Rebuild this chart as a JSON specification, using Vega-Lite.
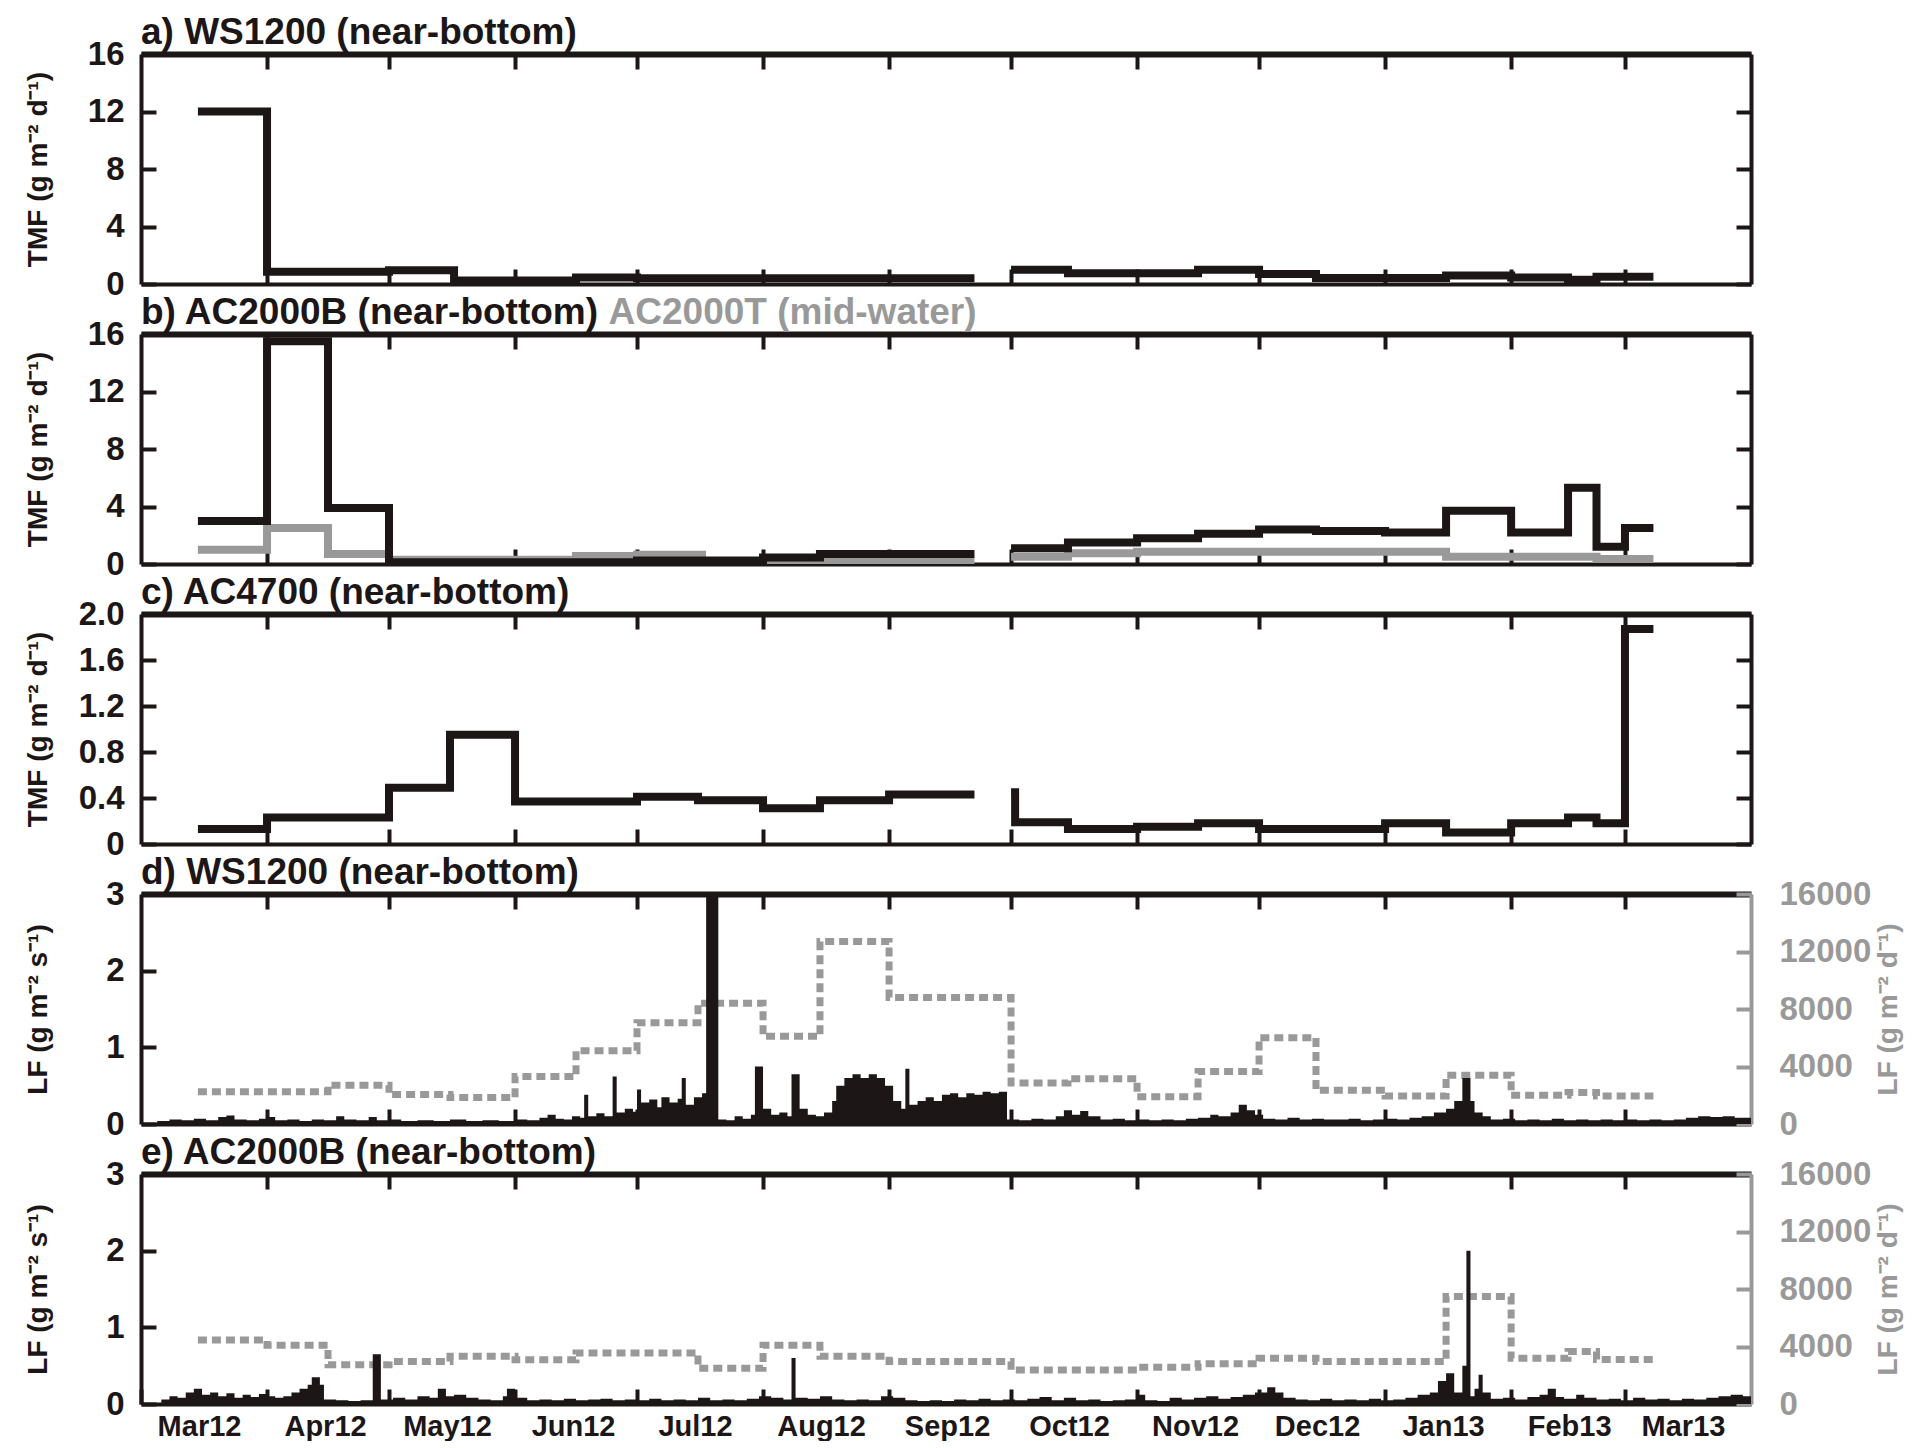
{
"$schema": "https://vega.github.io/schema/vega-lite/v6.json",
"background": "white",
"padding": {"left": 23, "top": 14, "right": 5, "bottom": 0},
"spacing": -7,
"config": {
  "view": {"stroke": null},
  "axis": {"domainColor": "#1c1716", "domainWidth": 4, "tickColor": "#1c1716", "tickWidth": 4, "tickSize": -15, "grid": false,
    "labelFont": "Liberation Sans", "labelFontSize": 33, "labelFontWeight": "bold", "labelColor": "#1c1716",
    "titleFont": "Liberation Sans", "titleFontSize": 28, "titleFontWeight": "bold", "titleColor": "#1c1716", "zindex": 1, "labelPadding": 32},
  "title": {"anchor": "start", "frame": "group", "font": "Liberation Sans", "fontSize": 37, "fontWeight": "bold", "color": "#1c1716", "offset": -14, "baseline": "bottom"}
},
"datasets": {
  "a": [
    {"t": "2012-03-15", "v": 12, "s": 1}, {"t": "2012-04-01", "v": 0.85, "s": 1}, {"t": "2012-05-01", "v": 0.95, "s": 1},
    {"t": "2012-05-17", "v": 0.25, "s": 1}, {"t": "2012-06-16", "v": 0.45, "s": 1}, {"t": "2012-07-01", "v": 0.4, "s": 1},
    {"t": "2012-09-22", "v": 0.4, "s": 1},
    {"t": "2012-10-01", "v": 1.0, "s": 2}, {"t": "2012-10-15", "v": 0.75, "s": 2}, {"t": "2012-11-16", "v": 1.0, "s": 2},
    {"t": "2012-12-01", "v": 0.7, "s": 2}, {"t": "2012-12-15", "v": 0.42, "s": 2}, {"t": "2013-01-16", "v": 0.6, "s": 2},
    {"t": "2013-02-01", "v": 0.46, "s": 2}, {"t": "2013-02-15", "v": 0.3, "s": 2}, {"t": "2013-02-22", "v": 0.5, "s": 2},
    {"t": "2013-03-08", "v": 0.5, "s": 2}
  ],
  "b": [
    {"t": "2012-03-15", "v": 3.0, "sr": "B", "s": 1}, {"t": "2012-04-01", "v": 15.5, "sr": "B", "s": 1}, {"t": "2012-04-16", "v": 3.9, "sr": "B", "s": 1},
    {"t": "2012-05-01", "v": 0.12, "sr": "B", "s": 1}, {"t": "2012-07-01", "v": 0.25, "sr": "B", "s": 1}, {"t": "2012-08-01", "v": 0.45, "sr": "B", "s": 1},
    {"t": "2012-08-15", "v": 0.7, "sr": "B", "s": 1}, {"t": "2012-09-22", "v": 0.7, "sr": "B", "s": 1},
    {"t": "2012-10-01", "v": 1.1, "sr": "B", "s": 2}, {"t": "2012-10-15", "v": 1.5, "sr": "B", "s": 2}, {"t": "2012-11-01", "v": 1.8, "sr": "B", "s": 2},
    {"t": "2012-11-16", "v": 2.1, "sr": "B", "s": 2}, {"t": "2012-12-01", "v": 2.4, "sr": "B", "s": 2}, {"t": "2012-12-15", "v": 2.3, "sr": "B", "s": 2},
    {"t": "2013-01-01", "v": 2.2, "sr": "B", "s": 2}, {"t": "2013-01-16", "v": 3.7, "sr": "B", "s": 2}, {"t": "2013-02-01", "v": 2.2, "sr": "B", "s": 2},
    {"t": "2013-02-15", "v": 5.3, "sr": "B", "s": 2}, {"t": "2013-02-22", "v": 1.2, "sr": "B", "s": 2}, {"t": "2013-03-01", "v": 2.5, "sr": "B", "s": 2},
    {"t": "2013-03-08", "v": 2.5, "sr": "B", "s": 2},
    {"t": "2012-03-15", "v": 1.0, "sr": "T", "s": 1}, {"t": "2012-04-01", "v": 2.5, "sr": "T", "s": 1}, {"t": "2012-04-16", "v": 0.7, "sr": "T", "s": 1},
    {"t": "2012-05-01", "v": 0.3, "sr": "T", "s": 1}, {"t": "2012-06-16", "v": 0.55, "sr": "T", "s": 1}, {"t": "2012-07-01", "v": 0.65, "sr": "T", "s": 1},
    {"t": "2012-07-17", "v": 0.2, "sr": "T", "s": 1}, {"t": "2012-09-22", "v": 0.2, "sr": "T", "s": 1},
    {"t": "2012-10-01", "v": 0.5, "sr": "T", "s": 2}, {"t": "2012-10-15", "v": 0.75, "sr": "T", "s": 2}, {"t": "2012-11-01", "v": 0.85, "sr": "T", "s": 2},
    {"t": "2013-01-16", "v": 0.5, "sr": "T", "s": 2}, {"t": "2013-02-22", "v": 0.35, "sr": "T", "s": 2}, {"t": "2013-03-08", "v": 0.35, "sr": "T", "s": 2}
  ],
  "bT": [
    {"lbl": "b) AC2000B (near-bottom)", "d": "2012-03-01", "col": "k"},
    {"lbl": "AC2000T (mid-water)", "d": "2012-06-24", "col": "g"}
  ],
  "c": [
    {"t": "2012-03-15", "v": 0.13, "s": 1}, {"t": "2012-04-01", "v": 0.23, "s": 1}, {"t": "2012-05-01", "v": 0.49, "s": 1},
    {"t": "2012-05-16", "v": 0.95, "s": 1}, {"t": "2012-06-01", "v": 0.37, "s": 1}, {"t": "2012-07-01", "v": 0.41, "s": 1},
    {"t": "2012-07-16", "v": 0.38, "s": 1}, {"t": "2012-08-01", "v": 0.31, "s": 1}, {"t": "2012-08-15", "v": 0.38, "s": 1},
    {"t": "2012-09-01", "v": 0.43, "s": 1}, {"t": "2012-09-22", "v": 0.43, "s": 1},
    {"t": "2012-10-01", "v": 0.45, "s": 2}, {"t": "2012-10-02", "v": 0.19, "s": 2}, {"t": "2012-10-15", "v": 0.13, "s": 2},
    {"t": "2012-11-01", "v": 0.15, "s": 2}, {"t": "2012-11-16", "v": 0.18, "s": 2}, {"t": "2012-12-01", "v": 0.13, "s": 2},
    {"t": "2013-01-01", "v": 0.18, "s": 2}, {"t": "2013-01-16", "v": 0.1, "s": 2}, {"t": "2013-02-01", "v": 0.18, "s": 2},
    {"t": "2013-02-15", "v": 0.23, "s": 2}, {"t": "2013-02-22", "v": 0.18, "s": 2}, {"t": "2013-03-01", "v": 1.87, "s": 2},
    {"t": "2013-03-08", "v": 1.87, "s": 2}
  ],
  "dG": [
    {"t": "2012-03-15", "g": 2250}, {"t": "2012-04-16", "g": 2700}, {"t": "2012-05-01", "g": 2050}, {"t": "2012-05-16", "g": 1850},
    {"t": "2012-06-01", "g": 3300}, {"t": "2012-06-16", "g": 5100}, {"t": "2012-07-01", "g": 7050}, {"t": "2012-07-16", "g": 8400},
    {"t": "2012-08-01", "g": 6100}, {"t": "2012-08-15", "g": 12700}, {"t": "2012-09-01", "g": 8800}, {"t": "2012-10-01", "g": 2850},
    {"t": "2012-10-15", "g": 3150}, {"t": "2012-11-01", "g": 1900}, {"t": "2012-11-16", "g": 3650}, {"t": "2012-12-01", "g": 6000},
    {"t": "2012-12-15", "g": 2350}, {"t": "2013-01-01", "g": 1950}, {"t": "2013-01-16", "g": 3400}, {"t": "2013-02-01", "g": 2000},
    {"t": "2013-02-15", "g": 2200}, {"t": "2013-02-22", "g": 1950}, {"t": "2013-03-08", "g": 1950}
  ],
  "eG": [
    {"t": "2012-03-15", "g": 4450}, {"t": "2012-04-01", "g": 4080}, {"t": "2012-04-16", "g": 2730}, {"t": "2012-05-01", "g": 2960},
    {"t": "2012-05-16", "g": 3320}, {"t": "2012-06-01", "g": 3080}, {"t": "2012-06-16", "g": 3550}, {"t": "2012-07-16", "g": 2490},
    {"t": "2012-08-01", "g": 4080}, {"t": "2012-08-15", "g": 3320}, {"t": "2012-09-01", "g": 2950}, {"t": "2012-10-01", "g": 2370},
    {"t": "2012-11-01", "g": 2550}, {"t": "2012-11-16", "g": 2800}, {"t": "2012-12-01", "g": 3190}, {"t": "2012-12-15", "g": 2960},
    {"t": "2013-01-16", "g": 7470}, {"t": "2013-02-01", "g": 3190}, {"t": "2013-02-15", "g": 3650}, {"t": "2013-02-22", "g": 3090},
    {"t": "2013-03-08", "g": 3090}
  ],
  "dL": [
    {"t": "2012-03-01", "lf": 0}, {"t": "2012-03-05", "lf": 0.04}, {"t": "2012-03-08", "lf": 0.06}, {"t": "2012-03-11", "lf": 0.05},
    {"t": "2012-03-14", "lf": 0.07}, {"t": "2012-03-17", "lf": 0.05}, {"t": "2012-03-20", "lf": 0.09}, {"t": "2012-03-22", "lf": 0.11},
    {"t": "2012-03-24", "lf": 0.06}, {"t": "2012-03-27", "lf": 0.05}, {"t": "2012-03-30", "lf": 0.07}, {"t": "2012-04-01", "lf": 0.09},
    {"t": "2012-04-03", "lf": 0.05}, {"t": "2012-04-06", "lf": 0.06}, {"t": "2012-04-09", "lf": 0.04}, {"t": "2012-04-12", "lf": 0.06},
    {"t": "2012-04-15", "lf": 0.05}, {"t": "2012-04-18", "lf": 0.1}, {"t": "2012-04-20", "lf": 0.06}, {"t": "2012-04-23", "lf": 0.05},
    {"t": "2012-04-26", "lf": 0.09}, {"t": "2012-04-28", "lf": 0.05}, {"t": "2012-05-01", "lf": 0.06}, {"t": "2012-05-04", "lf": 0.04},
    {"t": "2012-05-08", "lf": 0.05}, {"t": "2012-05-12", "lf": 0.04}, {"t": "2012-05-16", "lf": 0.06}, {"t": "2012-05-20", "lf": 0.04},
    {"t": "2012-05-24", "lf": 0.05}, {"t": "2012-05-28", "lf": 0.04}, {"t": "2012-06-01", "lf": 0.06}, {"t": "2012-06-04", "lf": 0.05},
    {"t": "2012-06-07", "lf": 0.08}, {"t": "2012-06-09", "lf": 0.12}, {"t": "2012-06-11", "lf": 0.07}, {"t": "2012-06-13", "lf": 0.06},
    {"t": "2012-06-15", "lf": 0.1}, {"t": "2012-06-17", "lf": 0.08}, {"t": "2012-06-18", "lf": 0.38}, {"t": "2012-06-19", "lf": 0.1},
    {"t": "2012-06-21", "lf": 0.14}, {"t": "2012-06-23", "lf": 0.1}, {"t": "2012-06-25", "lf": 0.62}, {"t": "2012-06-26", "lf": 0.15},
    {"t": "2012-06-28", "lf": 0.2}, {"t": "2012-06-30", "lf": 0.16}, {"t": "2012-07-01", "lf": 0.45}, {"t": "2012-07-02", "lf": 0.28},
    {"t": "2012-07-04", "lf": 0.32}, {"t": "2012-07-06", "lf": 0.22}, {"t": "2012-07-07", "lf": 0.35}, {"t": "2012-07-09", "lf": 0.28},
    {"t": "2012-07-11", "lf": 0.33}, {"t": "2012-07-12", "lf": 0.6}, {"t": "2012-07-13", "lf": 0.25}, {"t": "2012-07-15", "lf": 0.35},
    {"t": "2012-07-17", "lf": 0.4}, {"t": "2012-07-18", "lf": 3.2}, {"t": "2012-07-21", "lf": 0.06}, {"t": "2012-07-23", "lf": 0.05},
    {"t": "2012-07-25", "lf": 0.1}, {"t": "2012-07-27", "lf": 0.07}, {"t": "2012-07-29", "lf": 0.12}, {"t": "2012-07-30", "lf": 0.75},
    {"t": "2012-08-01", "lf": 0.2}, {"t": "2012-08-03", "lf": 0.12}, {"t": "2012-08-05", "lf": 0.15}, {"t": "2012-08-07", "lf": 0.1},
    {"t": "2012-08-08", "lf": 0.65}, {"t": "2012-08-10", "lf": 0.2}, {"t": "2012-08-12", "lf": 0.12}, {"t": "2012-08-14", "lf": 0.1},
    {"t": "2012-08-16", "lf": 0.15}, {"t": "2012-08-18", "lf": 0.3}, {"t": "2012-08-19", "lf": 0.5}, {"t": "2012-08-21", "lf": 0.6},
    {"t": "2012-08-23", "lf": 0.65}, {"t": "2012-08-25", "lf": 0.6}, {"t": "2012-08-27", "lf": 0.65}, {"t": "2012-08-29", "lf": 0.6},
    {"t": "2012-08-31", "lf": 0.5}, {"t": "2012-09-02", "lf": 0.3}, {"t": "2012-09-04", "lf": 0.2}, {"t": "2012-09-05", "lf": 0.72},
    {"t": "2012-09-06", "lf": 0.25}, {"t": "2012-09-08", "lf": 0.3}, {"t": "2012-09-10", "lf": 0.35}, {"t": "2012-09-12", "lf": 0.3},
    {"t": "2012-09-14", "lf": 0.38}, {"t": "2012-09-16", "lf": 0.4}, {"t": "2012-09-18", "lf": 0.35}, {"t": "2012-09-20", "lf": 0.4},
    {"t": "2012-09-22", "lf": 0.38}, {"t": "2012-09-24", "lf": 0.42}, {"t": "2012-09-26", "lf": 0.4}, {"t": "2012-09-28", "lf": 0.42},
    {"t": "2012-09-30", "lf": 0.06}, {"t": "2012-10-03", "lf": 0.05}, {"t": "2012-10-06", "lf": 0.07}, {"t": "2012-10-09", "lf": 0.06},
    {"t": "2012-10-12", "lf": 0.1}, {"t": "2012-10-14", "lf": 0.18}, {"t": "2012-10-16", "lf": 0.12}, {"t": "2012-10-18", "lf": 0.17},
    {"t": "2012-10-20", "lf": 0.1}, {"t": "2012-10-23", "lf": 0.06}, {"t": "2012-10-26", "lf": 0.07}, {"t": "2012-10-29", "lf": 0.05},
    {"t": "2012-11-01", "lf": 0.06}, {"t": "2012-11-04", "lf": 0.05}, {"t": "2012-11-07", "lf": 0.06}, {"t": "2012-11-10", "lf": 0.05},
    {"t": "2012-11-13", "lf": 0.07}, {"t": "2012-11-16", "lf": 0.08}, {"t": "2012-11-19", "lf": 0.12}, {"t": "2012-11-21", "lf": 0.1},
    {"t": "2012-11-24", "lf": 0.15}, {"t": "2012-11-26", "lf": 0.25}, {"t": "2012-11-28", "lf": 0.18}, {"t": "2012-11-30", "lf": 0.12},
    {"t": "2012-12-02", "lf": 0.07}, {"t": "2012-12-05", "lf": 0.06}, {"t": "2012-12-08", "lf": 0.08}, {"t": "2012-12-11", "lf": 0.06},
    {"t": "2012-12-14", "lf": 0.07}, {"t": "2012-12-17", "lf": 0.06}, {"t": "2012-12-20", "lf": 0.06}, {"t": "2012-12-23", "lf": 0.07},
    {"t": "2012-12-26", "lf": 0.05}, {"t": "2012-12-29", "lf": 0.06}, {"t": "2013-01-01", "lf": 0.07}, {"t": "2013-01-04", "lf": 0.06},
    {"t": "2013-01-07", "lf": 0.08}, {"t": "2013-01-10", "lf": 0.1}, {"t": "2013-01-13", "lf": 0.15}, {"t": "2013-01-16", "lf": 0.2},
    {"t": "2013-01-18", "lf": 0.3}, {"t": "2013-01-20", "lf": 0.6}, {"t": "2013-01-22", "lf": 0.3}, {"t": "2013-01-23", "lf": 0.15},
    {"t": "2013-01-25", "lf": 0.1}, {"t": "2013-01-27", "lf": 0.06}, {"t": "2013-01-30", "lf": 0.07}, {"t": "2013-02-02", "lf": 0.05},
    {"t": "2013-02-05", "lf": 0.06}, {"t": "2013-02-08", "lf": 0.05}, {"t": "2013-02-11", "lf": 0.07}, {"t": "2013-02-14", "lf": 0.05},
    {"t": "2013-02-17", "lf": 0.06}, {"t": "2013-02-20", "lf": 0.05}, {"t": "2013-02-23", "lf": 0.06}, {"t": "2013-02-26", "lf": 0.05},
    {"t": "2013-03-01", "lf": 0.06}, {"t": "2013-03-04", "lf": 0.05}, {"t": "2013-03-07", "lf": 0.06}, {"t": "2013-03-10", "lf": 0.05},
    {"t": "2013-03-13", "lf": 0.06}, {"t": "2013-03-16", "lf": 0.08}, {"t": "2013-03-19", "lf": 0.1}, {"t": "2013-03-22", "lf": 0.09},
    {"t": "2013-03-25", "lf": 0.1}, {"t": "2013-03-28", "lf": 0.08}, {"t": "2013-04-01", "lf": 0.08}
  ],
  "eL": [
    {"t": "2012-03-01", "lf": 0}, {"t": "2012-03-06", "lf": 0.06}, {"t": "2012-03-08", "lf": 0.1}, {"t": "2012-03-10", "lf": 0.08},
    {"t": "2012-03-12", "lf": 0.15}, {"t": "2012-03-14", "lf": 0.2}, {"t": "2012-03-16", "lf": 0.12}, {"t": "2012-03-18", "lf": 0.15},
    {"t": "2012-03-20", "lf": 0.1}, {"t": "2012-03-22", "lf": 0.14}, {"t": "2012-03-24", "lf": 0.08}, {"t": "2012-03-26", "lf": 0.12},
    {"t": "2012-03-28", "lf": 0.09}, {"t": "2012-03-30", "lf": 0.13}, {"t": "2012-04-01", "lf": 0.1}, {"t": "2012-04-03", "lf": 0.08},
    {"t": "2012-04-05", "lf": 0.1}, {"t": "2012-04-07", "lf": 0.15}, {"t": "2012-04-09", "lf": 0.2}, {"t": "2012-04-11", "lf": 0.25},
    {"t": "2012-04-12", "lf": 0.35}, {"t": "2012-04-14", "lf": 0.25}, {"t": "2012-04-15", "lf": 0.06}, {"t": "2012-04-18", "lf": 0.05},
    {"t": "2012-04-21", "lf": 0.04}, {"t": "2012-04-24", "lf": 0.05}, {"t": "2012-04-27", "lf": 0.65}, {"t": "2012-04-29", "lf": 0.06},
    {"t": "2012-05-02", "lf": 0.08}, {"t": "2012-05-05", "lf": 0.06}, {"t": "2012-05-08", "lf": 0.1}, {"t": "2012-05-11", "lf": 0.08},
    {"t": "2012-05-13", "lf": 0.2}, {"t": "2012-05-15", "lf": 0.1}, {"t": "2012-05-17", "lf": 0.12}, {"t": "2012-05-20", "lf": 0.08},
    {"t": "2012-05-23", "lf": 0.06}, {"t": "2012-05-26", "lf": 0.05}, {"t": "2012-05-29", "lf": 0.1}, {"t": "2012-05-30", "lf": 0.2},
    {"t": "2012-06-01", "lf": 0.08}, {"t": "2012-06-04", "lf": 0.05}, {"t": "2012-06-07", "lf": 0.06}, {"t": "2012-06-10", "lf": 0.05},
    {"t": "2012-06-13", "lf": 0.07}, {"t": "2012-06-16", "lf": 0.05}, {"t": "2012-06-19", "lf": 0.06}, {"t": "2012-06-22", "lf": 0.07},
    {"t": "2012-06-25", "lf": 0.05}, {"t": "2012-06-28", "lf": 0.06}, {"t": "2012-07-01", "lf": 0.05}, {"t": "2012-07-04", "lf": 0.07},
    {"t": "2012-07-07", "lf": 0.05}, {"t": "2012-07-10", "lf": 0.06}, {"t": "2012-07-13", "lf": 0.05}, {"t": "2012-07-16", "lf": 0.08},
    {"t": "2012-07-19", "lf": 0.05}, {"t": "2012-07-22", "lf": 0.06}, {"t": "2012-07-25", "lf": 0.05}, {"t": "2012-07-28", "lf": 0.07},
    {"t": "2012-07-31", "lf": 0.1}, {"t": "2012-08-03", "lf": 0.08}, {"t": "2012-08-06", "lf": 0.06}, {"t": "2012-08-08", "lf": 0.6},
    {"t": "2012-08-09", "lf": 0.08}, {"t": "2012-08-12", "lf": 0.07}, {"t": "2012-08-15", "lf": 0.1}, {"t": "2012-08-18", "lf": 0.06},
    {"t": "2012-08-21", "lf": 0.05}, {"t": "2012-08-24", "lf": 0.06}, {"t": "2012-08-27", "lf": 0.05}, {"t": "2012-08-30", "lf": 0.1},
    {"t": "2012-09-02", "lf": 0.08}, {"t": "2012-09-05", "lf": 0.05}, {"t": "2012-09-08", "lf": 0.04}, {"t": "2012-09-11", "lf": 0.05},
    {"t": "2012-09-14", "lf": 0.04}, {"t": "2012-09-17", "lf": 0.06}, {"t": "2012-09-20", "lf": 0.05}, {"t": "2012-09-23", "lf": 0.07},
    {"t": "2012-09-26", "lf": 0.05}, {"t": "2012-09-29", "lf": 0.06}, {"t": "2012-10-02", "lf": 0.05}, {"t": "2012-10-05", "lf": 0.07},
    {"t": "2012-10-08", "lf": 0.09}, {"t": "2012-10-11", "lf": 0.05}, {"t": "2012-10-14", "lf": 0.08}, {"t": "2012-10-17", "lf": 0.05},
    {"t": "2012-10-20", "lf": 0.06}, {"t": "2012-10-23", "lf": 0.04}, {"t": "2012-10-26", "lf": 0.05}, {"t": "2012-10-29", "lf": 0.06},
    {"t": "2012-11-01", "lf": 0.12}, {"t": "2012-11-03", "lf": 0.05}, {"t": "2012-11-06", "lf": 0.04}, {"t": "2012-11-09", "lf": 0.08},
    {"t": "2012-11-12", "lf": 0.06}, {"t": "2012-11-15", "lf": 0.08}, {"t": "2012-11-18", "lf": 0.1}, {"t": "2012-11-21", "lf": 0.07},
    {"t": "2012-11-24", "lf": 0.09}, {"t": "2012-11-27", "lf": 0.12}, {"t": "2012-11-30", "lf": 0.15}, {"t": "2012-12-03", "lf": 0.22},
    {"t": "2012-12-05", "lf": 0.15}, {"t": "2012-12-07", "lf": 0.08}, {"t": "2012-12-10", "lf": 0.06}, {"t": "2012-12-13", "lf": 0.05},
    {"t": "2012-12-16", "lf": 0.07}, {"t": "2012-12-19", "lf": 0.05}, {"t": "2012-12-22", "lf": 0.06}, {"t": "2012-12-25", "lf": 0.05},
    {"t": "2012-12-28", "lf": 0.07}, {"t": "2012-12-31", "lf": 0.05}, {"t": "2013-01-03", "lf": 0.06}, {"t": "2013-01-06", "lf": 0.08},
    {"t": "2013-01-09", "lf": 0.12}, {"t": "2013-01-12", "lf": 0.15}, {"t": "2013-01-14", "lf": 0.3}, {"t": "2013-01-16", "lf": 0.4},
    {"t": "2013-01-18", "lf": 0.15}, {"t": "2013-01-20", "lf": 0.5}, {"t": "2013-01-21", "lf": 2.0}, {"t": "2013-01-22", "lf": 0.1},
    {"t": "2013-01-23", "lf": 0.2}, {"t": "2013-01-24", "lf": 0.38}, {"t": "2013-01-25", "lf": 0.15}, {"t": "2013-01-27", "lf": 0.07},
    {"t": "2013-01-30", "lf": 0.08}, {"t": "2013-02-02", "lf": 0.06}, {"t": "2013-02-05", "lf": 0.09}, {"t": "2013-02-08", "lf": 0.12},
    {"t": "2013-02-10", "lf": 0.2}, {"t": "2013-02-12", "lf": 0.09}, {"t": "2013-02-14", "lf": 0.07}, {"t": "2013-02-17", "lf": 0.12},
    {"t": "2013-02-19", "lf": 0.08}, {"t": "2013-02-22", "lf": 0.06}, {"t": "2013-02-25", "lf": 0.07}, {"t": "2013-02-28", "lf": 0.05},
    {"t": "2013-03-03", "lf": 0.08}, {"t": "2013-03-06", "lf": 0.06}, {"t": "2013-03-09", "lf": 0.07}, {"t": "2013-03-12", "lf": 0.05},
    {"t": "2013-03-15", "lf": 0.07}, {"t": "2013-03-18", "lf": 0.06}, {"t": "2013-03-21", "lf": 0.08}, {"t": "2013-03-24", "lf": 0.1},
    {"t": "2013-03-27", "lf": 0.12}, {"t": "2013-03-30", "lf": 0.1}, {"t": "2013-04-01", "lf": 0.1}
  ]
},
"vconcat": [
  {
    "width": 1610, "height": 230,
    "title": {"text": "a) WS1200 (near-bottom)"},
    "data": {"name": "a"},
    "layer": [
      {"mark": {"type": "line", "interpolate": "step-after", "strokeWidth": 8, "color": "#1c1716", "clip": true},
       "encoding": {
         "x": {"field": "t", "type": "temporal", "scale": {"type": "utc", "domain": [{"year": 2012, "month": 3, "date": 1, "utc": true}, {"year": 2013, "month": 4, "date": 1, "utc": true}]},
               "axis": {"orient": "bottom", "labels": false, "title": null, "values": [{"year": 2012, "month": 4, "date": 1, "utc": true}, {"year": 2012, "month": 5, "date": 1, "utc": true}, {"year": 2012, "month": 6, "date": 1, "utc": true}, {"year": 2012, "month": 7, "date": 1, "utc": true}, {"year": 2012, "month": 8, "date": 1, "utc": true}, {"year": 2012, "month": 9, "date": 1, "utc": true}, {"year": 2012, "month": 10, "date": 1, "utc": true}, {"year": 2012, "month": 11, "date": 1, "utc": true}, {"year": 2012, "month": 12, "date": 1, "utc": true}, {"year": 2013, "month": 1, "date": 1, "utc": true}, {"year": 2013, "month": 2, "date": 1, "utc": true}, {"year": 2013, "month": 3, "date": 1, "utc": true}]}},
         "y": {"field": "v", "type": "quantitative", "scale": {"domain": [0, 16]},
               "axis": {"orient": "left", "values": [0, 4, 8, 12, 16], "title": "TMF (g m⁻² d⁻¹)", "titleX": -103, "titleAngle": -90, "titleAlign": "center", "titleBaseline": "middle"}},
         "detail": {"field": "s"}
       }},
      {"mark": {"type": "line", "interpolate": "step-after", "strokeOpacity": 0},
       "encoding": {
         "x": {"field": "t", "type": "temporal", "scale": {"type": "utc", "domain": [{"year": 2012, "month": 3, "date": 1, "utc": true}, {"year": 2013, "month": 4, "date": 1, "utc": true}]},
               "axis": {"orient": "top", "labels": false, "title": null, "domainWidth": 6, "values": [{"year": 2012, "month": 4, "date": 1, "utc": true}, {"year": 2012, "month": 5, "date": 1, "utc": true}, {"year": 2012, "month": 6, "date": 1, "utc": true}, {"year": 2012, "month": 7, "date": 1, "utc": true}, {"year": 2012, "month": 8, "date": 1, "utc": true}, {"year": 2012, "month": 9, "date": 1, "utc": true}, {"year": 2012, "month": 10, "date": 1, "utc": true}, {"year": 2012, "month": 11, "date": 1, "utc": true}, {"year": 2012, "month": 12, "date": 1, "utc": true}, {"year": 2013, "month": 1, "date": 1, "utc": true}, {"year": 2013, "month": 2, "date": 1, "utc": true}, {"year": 2013, "month": 3, "date": 1, "utc": true}]}},
         "y": {"field": "v", "type": "quantitative", "scale": {"domain": [0, 16]},
               "axis": {"orient": "right", "values": [0, 4, 8, 12, 16], "labels": false, "title": null}},
         "detail": {"field": "s"}
       }}
    ],
    "resolve": {"axis": {"x": "independent", "y": "independent"}}
  },
  {
    "width": 1610, "height": 230,
    "layer": [
      {"data": {"name": "b"},
       "transform": [{"filter": "datum.sr == 'T'"}],
       "mark": {"type": "line", "interpolate": "step-after", "strokeWidth": 8, "color": "#999999", "clip": true},
       "encoding": {
         "x": {"field": "t", "type": "temporal", "scale": {"type": "utc", "domain": [{"year": 2012, "month": 3, "date": 1, "utc": true}, {"year": 2013, "month": 4, "date": 1, "utc": true}]},
               "axis": {"orient": "top", "labels": false, "title": null, "domainWidth": 6, "values": [{"year": 2012, "month": 4, "date": 1, "utc": true}, {"year": 2012, "month": 5, "date": 1, "utc": true}, {"year": 2012, "month": 6, "date": 1, "utc": true}, {"year": 2012, "month": 7, "date": 1, "utc": true}, {"year": 2012, "month": 8, "date": 1, "utc": true}, {"year": 2012, "month": 9, "date": 1, "utc": true}, {"year": 2012, "month": 10, "date": 1, "utc": true}, {"year": 2012, "month": 11, "date": 1, "utc": true}, {"year": 2012, "month": 12, "date": 1, "utc": true}, {"year": 2013, "month": 1, "date": 1, "utc": true}, {"year": 2013, "month": 2, "date": 1, "utc": true}, {"year": 2013, "month": 3, "date": 1, "utc": true}]}},
         "y": {"field": "v", "type": "quantitative", "scale": {"domain": [0, 16]},
               "axis": {"orient": "right", "values": [0, 4, 8, 12, 16], "labels": false, "title": null}},
         "detail": {"field": "s"}
       }},
      {"data": {"name": "b"},
       "transform": [{"filter": "datum.sr == 'B'"}],
       "mark": {"type": "line", "interpolate": "step-after", "strokeWidth": 8, "color": "#1c1716", "clip": true},
       "encoding": {
         "x": {"field": "t", "type": "temporal", "scale": {"type": "utc", "domain": [{"year": 2012, "month": 3, "date": 1, "utc": true}, {"year": 2013, "month": 4, "date": 1, "utc": true}]},
               "axis": {"orient": "bottom", "labels": false, "title": null, "values": [{"year": 2012, "month": 4, "date": 1, "utc": true}, {"year": 2012, "month": 5, "date": 1, "utc": true}, {"year": 2012, "month": 6, "date": 1, "utc": true}, {"year": 2012, "month": 7, "date": 1, "utc": true}, {"year": 2012, "month": 8, "date": 1, "utc": true}, {"year": 2012, "month": 9, "date": 1, "utc": true}, {"year": 2012, "month": 10, "date": 1, "utc": true}, {"year": 2012, "month": 11, "date": 1, "utc": true}, {"year": 2012, "month": 12, "date": 1, "utc": true}, {"year": 2013, "month": 1, "date": 1, "utc": true}, {"year": 2013, "month": 2, "date": 1, "utc": true}, {"year": 2013, "month": 3, "date": 1, "utc": true}]}},
         "y": {"field": "v", "type": "quantitative", "scale": {"domain": [0, 16]},
               "axis": {"orient": "left", "values": [0, 4, 8, 12, 16], "title": "TMF (g m⁻² d⁻¹)", "titleX": -103, "titleAngle": -90, "titleAlign": "center", "titleBaseline": "middle"}},
         "detail": {"field": "s"}
       }},
      {"data": {"name": "bT"},
       "mark": {"type": "text", "align": "left", "baseline": "bottom", "dy": -2, "font": "Liberation Sans", "fontSize": 37, "fontWeight": "bold"},
       "encoding": {
         "x": {"field": "d", "type": "temporal", "axis": null},
         "y": {"datum": 16, "type": "quantitative", "axis": null},
         "text": {"field": "lbl"},
         "color": {"field": "col", "type": "nominal", "scale": {"domain": ["k", "g"], "range": ["#1c1716", "#999999"]}, "legend": null}
       }}
    ],
    "resolve": {"axis": {"x": "independent", "y": "independent"}}
  },
  {
    "width": 1610, "height": 230,
    "title": {"text": "c) AC4700 (near-bottom)"},
    "data": {"name": "c"},
    "layer": [
      {"mark": {"type": "line", "interpolate": "step-after", "strokeWidth": 8, "color": "#1c1716", "clip": true},
       "encoding": {
         "x": {"field": "t", "type": "temporal", "scale": {"type": "utc", "domain": [{"year": 2012, "month": 3, "date": 1, "utc": true}, {"year": 2013, "month": 4, "date": 1, "utc": true}]},
               "axis": {"orient": "bottom", "labels": false, "title": null, "values": [{"year": 2012, "month": 4, "date": 1, "utc": true}, {"year": 2012, "month": 5, "date": 1, "utc": true}, {"year": 2012, "month": 6, "date": 1, "utc": true}, {"year": 2012, "month": 7, "date": 1, "utc": true}, {"year": 2012, "month": 8, "date": 1, "utc": true}, {"year": 2012, "month": 9, "date": 1, "utc": true}, {"year": 2012, "month": 10, "date": 1, "utc": true}, {"year": 2012, "month": 11, "date": 1, "utc": true}, {"year": 2012, "month": 12, "date": 1, "utc": true}, {"year": 2013, "month": 1, "date": 1, "utc": true}, {"year": 2013, "month": 2, "date": 1, "utc": true}, {"year": 2013, "month": 3, "date": 1, "utc": true}]}},
         "y": {"field": "v", "type": "quantitative", "scale": {"domain": [0, 2]},
               "axis": {"orient": "left", "values": [0, 0.4, 0.8, 1.2, 1.6, 2.0], "labelExpr": "datum.value == 0 ? '0' : format(datum.value, '.1f')", "title": "TMF (g m⁻² d⁻¹)", "titleX": -103, "titleAngle": -90, "titleAlign": "center", "titleBaseline": "middle"}},
         "detail": {"field": "s"}
       }},
      {"mark": {"type": "line", "interpolate": "step-after", "strokeOpacity": 0},
       "encoding": {
         "x": {"field": "t", "type": "temporal", "scale": {"type": "utc", "domain": [{"year": 2012, "month": 3, "date": 1, "utc": true}, {"year": 2013, "month": 4, "date": 1, "utc": true}]},
               "axis": {"orient": "top", "labels": false, "title": null, "domainWidth": 6, "values": [{"year": 2012, "month": 4, "date": 1, "utc": true}, {"year": 2012, "month": 5, "date": 1, "utc": true}, {"year": 2012, "month": 6, "date": 1, "utc": true}, {"year": 2012, "month": 7, "date": 1, "utc": true}, {"year": 2012, "month": 8, "date": 1, "utc": true}, {"year": 2012, "month": 9, "date": 1, "utc": true}, {"year": 2012, "month": 10, "date": 1, "utc": true}, {"year": 2012, "month": 11, "date": 1, "utc": true}, {"year": 2012, "month": 12, "date": 1, "utc": true}, {"year": 2013, "month": 1, "date": 1, "utc": true}, {"year": 2013, "month": 2, "date": 1, "utc": true}, {"year": 2013, "month": 3, "date": 1, "utc": true}]}},
         "y": {"field": "v", "type": "quantitative", "scale": {"domain": [0, 2]},
               "axis": {"orient": "right", "values": [0, 0.4, 0.8, 1.2, 1.6, 2.0], "labels": false, "title": null}},
         "detail": {"field": "s"}
       }}
    ],
    "resolve": {"axis": {"x": "independent", "y": "independent"}}
  },
  {
    "width": 1610, "height": 230,
    "title": {"text": "d) WS1200 (near-bottom)"},
    "layer": [
      {"data": {"name": "dG"},
       "mark": {"type": "line", "interpolate": "step-after", "strokeWidth": 7, "strokeDash": [9, 5], "color": "#999999", "clip": true},
       "encoding": {
         "x": {"field": "t", "type": "temporal", "scale": {"type": "utc", "domain": [{"year": 2012, "month": 3, "date": 1, "utc": true}, {"year": 2013, "month": 4, "date": 1, "utc": true}]},
               "axis": {"orient": "top", "labels": false, "title": null, "domainWidth": 6, "values": [{"year": 2012, "month": 4, "date": 1, "utc": true}, {"year": 2012, "month": 5, "date": 1, "utc": true}, {"year": 2012, "month": 6, "date": 1, "utc": true}, {"year": 2012, "month": 7, "date": 1, "utc": true}, {"year": 2012, "month": 8, "date": 1, "utc": true}, {"year": 2012, "month": 9, "date": 1, "utc": true}, {"year": 2012, "month": 10, "date": 1, "utc": true}, {"year": 2012, "month": 11, "date": 1, "utc": true}, {"year": 2012, "month": 12, "date": 1, "utc": true}, {"year": 2013, "month": 1, "date": 1, "utc": true}, {"year": 2013, "month": 2, "date": 1, "utc": true}, {"year": 2013, "month": 3, "date": 1, "utc": true}]}},
         "y": {"field": "g", "type": "quantitative", "scale": {"domain": [0, 16000]},
               "axis": {"orient": "right", "values": [0, 4000, 8000, 12000, 16000], "format": "d", "domainColor": "#999999", "tickColor": "#999999", "labelColor": "#999999", "titleColor": "#999999", "labelAlign": "left", "labelPadding": 43,
                        "title": "LF (g m⁻² d⁻¹)", "titleX": 137, "titleAngle": -90, "titleAlign": "center", "titleBaseline": "middle"}}
       }},
      {"data": {"name": "dL"},
       "mark": {"type": "area", "interpolate": "step-after", "color": "#1c1716", "clip": true},
       "encoding": {
         "x": {"field": "t", "type": "temporal", "scale": {"type": "utc", "domain": [{"year": 2012, "month": 3, "date": 1, "utc": true}, {"year": 2013, "month": 4, "date": 1, "utc": true}]},
               "axis": {"orient": "bottom", "labels": false, "title": null, "values": [{"year": 2012, "month": 4, "date": 1, "utc": true}, {"year": 2012, "month": 5, "date": 1, "utc": true}, {"year": 2012, "month": 6, "date": 1, "utc": true}, {"year": 2012, "month": 7, "date": 1, "utc": true}, {"year": 2012, "month": 8, "date": 1, "utc": true}, {"year": 2012, "month": 9, "date": 1, "utc": true}, {"year": 2012, "month": 10, "date": 1, "utc": true}, {"year": 2012, "month": 11, "date": 1, "utc": true}, {"year": 2012, "month": 12, "date": 1, "utc": true}, {"year": 2013, "month": 1, "date": 1, "utc": true}, {"year": 2013, "month": 2, "date": 1, "utc": true}, {"year": 2013, "month": 3, "date": 1, "utc": true}]}},
         "y": {"field": "lf", "type": "quantitative", "scale": {"domain": [0, 3]},
               "axis": {"orient": "left", "values": [0, 1, 2, 3], "title": "LF (g m⁻² s⁻¹)", "titleX": -103, "titleAngle": -90, "titleAlign": "center", "titleBaseline": "middle"}}
       }}
    ],
    "resolve": {"scale": {"y": "independent"}, "axis": {"x": "independent", "y": "independent"}}
  },
  {
    "width": 1610, "height": 230,
    "title": {"text": "e) AC2000B (near-bottom)"},
    "layer": [
      {"data": {"name": "eG"},
       "mark": {"type": "line", "interpolate": "step-after", "strokeWidth": 7, "strokeDash": [9, 5], "color": "#999999", "clip": true},
       "encoding": {
         "x": {"field": "t", "type": "temporal", "scale": {"type": "utc", "domain": [{"year": 2012, "month": 3, "date": 1, "utc": true}, {"year": 2013, "month": 4, "date": 1, "utc": true}]},
               "axis": {"orient": "top", "labels": false, "title": null, "domainWidth": 6, "values": [{"year": 2012, "month": 4, "date": 1, "utc": true}, {"year": 2012, "month": 5, "date": 1, "utc": true}, {"year": 2012, "month": 6, "date": 1, "utc": true}, {"year": 2012, "month": 7, "date": 1, "utc": true}, {"year": 2012, "month": 8, "date": 1, "utc": true}, {"year": 2012, "month": 9, "date": 1, "utc": true}, {"year": 2012, "month": 10, "date": 1, "utc": true}, {"year": 2012, "month": 11, "date": 1, "utc": true}, {"year": 2012, "month": 12, "date": 1, "utc": true}, {"year": 2013, "month": 1, "date": 1, "utc": true}, {"year": 2013, "month": 2, "date": 1, "utc": true}, {"year": 2013, "month": 3, "date": 1, "utc": true}]}},
         "y": {"field": "g", "type": "quantitative", "scale": {"domain": [0, 16000]},
               "axis": {"orient": "right", "values": [0, 4000, 8000, 12000, 16000], "format": "d", "domainColor": "#999999", "tickColor": "#999999", "labelColor": "#999999", "titleColor": "#999999", "labelAlign": "left", "labelPadding": 43,
                        "title": "LF (g m⁻² d⁻¹)", "titleX": 137, "titleAngle": -90, "titleAlign": "center", "titleBaseline": "middle"}}
       }},
      {"data": {"name": "eL"},
       "mark": {"type": "area", "interpolate": "step-after", "color": "#1c1716", "clip": true},
       "encoding": {
         "x": {"field": "t", "type": "temporal", "scale": {"type": "utc", "domain": [{"year": 2012, "month": 3, "date": 1, "utc": true}, {"year": 2013, "month": 4, "date": 1, "utc": true}]},
               "axis": {"orient": "bottom", "title": null, "format": "%b%y", "labelOffset": 58, "labelPadding": 23, "labelFontSize": 29, "labelFlush": false, "labelOverlap": false, "labelBound": false,
                        "values": [{"year": 2012, "month": 3, "date": 1, "utc": true}, {"year": 2012, "month": 4, "date": 1, "utc": true}, {"year": 2012, "month": 5, "date": 1, "utc": true}, {"year": 2012, "month": 6, "date": 1, "utc": true}, {"year": 2012, "month": 7, "date": 1, "utc": true}, {"year": 2012, "month": 8, "date": 1, "utc": true}, {"year": 2012, "month": 9, "date": 1, "utc": true}, {"year": 2012, "month": 10, "date": 1, "utc": true}, {"year": 2012, "month": 11, "date": 1, "utc": true}, {"year": 2012, "month": 12, "date": 1, "utc": true}, {"year": 2013, "month": 1, "date": 1, "utc": true}, {"year": 2013, "month": 2, "date": 1, "utc": true}, {"year": 2013, "month": 3, "date": 1, "utc": true}]}},
         "y": {"field": "lf", "type": "quantitative", "scale": {"domain": [0, 3]},
               "axis": {"orient": "left", "values": [0, 1, 2, 3], "title": "LF (g m⁻² s⁻¹)", "titleX": -103, "titleAngle": -90, "titleAlign": "center", "titleBaseline": "middle"}}
       }}
    ],
    "resolve": {"scale": {"y": "independent"}, "axis": {"x": "independent", "y": "independent"}}
  }
]
}
